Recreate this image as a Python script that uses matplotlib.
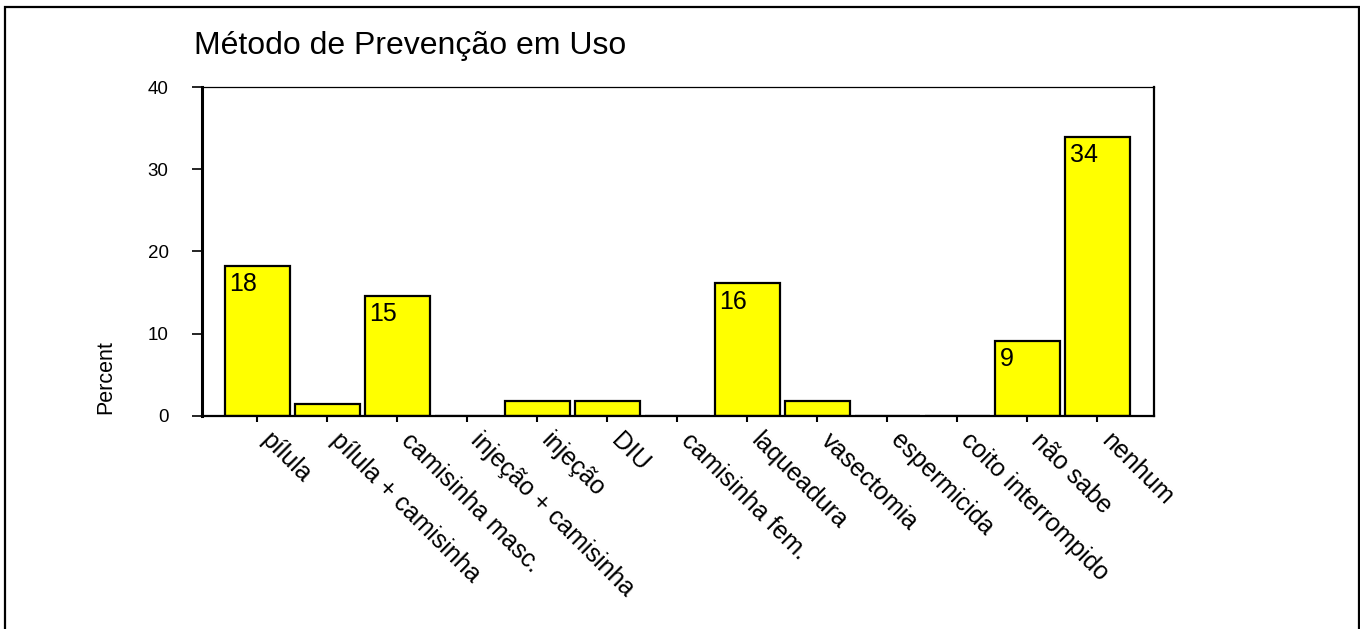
import matplotlib
matplotlib.use("Agg")
import matplotlib.pyplot as plt
from matplotlib.patches import Rectangle

plt.rcParams['font.family'] = ['Liberation Sans', 'DejaVu Sans']

# data
metodos = ["pílula", "pílula + camisinha", "camisinha masc.", "injeção + camisinha",
           "injeção", "DIU", "camisinha fem.", "laqueadura", "vasectomia",
           "espermicida", "coito interrompido", "não sabe", "nenhum"]
percent = [18.2, 1.4, 14.6, 0.0, 1.8, 1.8, 0.0, 16.1, 1.8, 0.0, 0.0, 9.1, 33.9]
yticks = [0, 10, 20, 30, 40]

fig = plt.figure(figsize=(13.6, 6.29), dpi=100)
ax = fig.add_axes([202/1360, 1-415.7/629, 952/1360, 328.7/629])

x = list(range(len(metodos)))
bars = ax.bar(x, percent, width=0.93, color="#ffff00", edgecolor="black", linewidth=1.6)

# value labels inside the bigger bars, top-left corner
for b, v in zip(bars, percent):
    if v >= 5:
        ax.annotate(str(round(v)), xy=(b.get_x(), v), xytext=(3.5, -4.5),
                    textcoords="offset points", ha="left", va="top", fontsize=18)

ax.set_xlim(-0.79, 12.81)
ax.set_ylim(0, 40)
ax.set_yticks(yticks)
ax.set_xticks(x)
ax.set_xticklabels([""] * len(metodos))
# category labels, slanted down-right and starting a bit right of the tick
for i, m in zip(x, metodos):
    ax.annotate(m, xy=(i, 0), xycoords=("data", "axes fraction"), xytext=(11.5, -9),
                textcoords="offset points", rotation=-45, rotation_mode="anchor",
                ha="left", va="top", fontsize=18, annotation_clip=False)
ax.tick_params(axis="x", direction="out", length=4, width=1.5)
ax.tick_params(axis="y", direction="out", length=7, width=1.2, pad=17, labelsize=13.5)

ax.spines["left"].set_linewidth(2.2)
ax.spines["bottom"].set_linewidth(1.6)
ax.spines["right"].set_linewidth(1.6)
ax.spines["top"].set_linewidth(0.9)

ax.set_ylabel("Percent", fontsize=15.5)
ax.yaxis.label.set_va("center")
ax.yaxis.set_label_coords((106-202)/952, (415.7-377)/328.7)

ax.set_title("Método de Prevenção em Uso", loc="left", fontsize=23, pad=24, x=-0.008)

fig.patches.append(Rectangle((5/1360, -0.1), 1354/1360, 1.1-6.7/629, transform=fig.transFigure,
                             fill=False, edgecolor="black", linewidth=1.6))

fig.savefig("out.png", dpi=100)
